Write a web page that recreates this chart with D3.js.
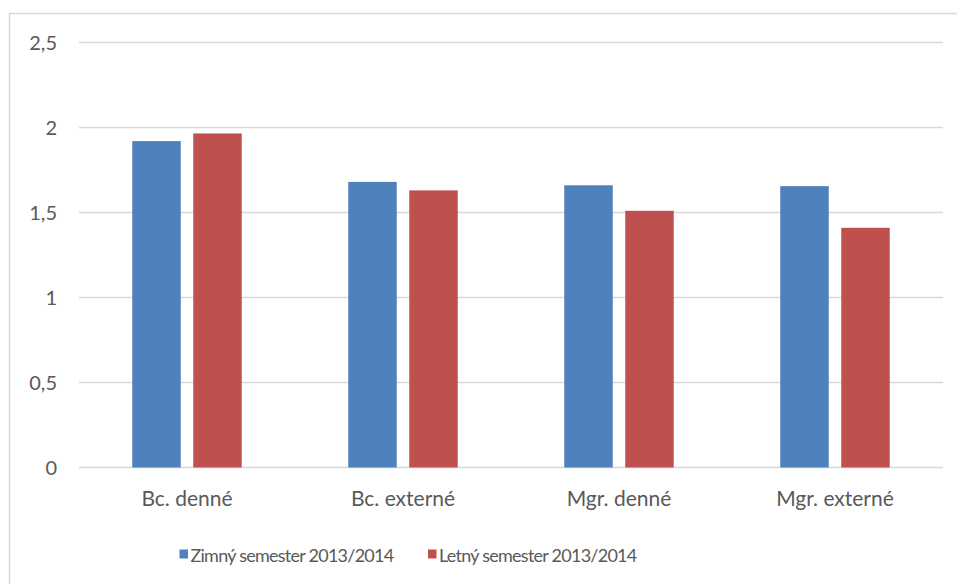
<!DOCTYPE html>
<html>
<head>
<meta charset="utf-8">
<script src="https://cdn.jsdelivr.net/npm/d3@7"></script>
<style>
  body { margin: 0; background: #fff; }
  text { font-family: Lato, "Open Sans", sans-serif; fill: #595959; }
</style>
</head>
<body>
<script>
// -- data --
var categories = ["Bc. denné", "Bc. externé", "Mgr. denné", "Mgr. externé"];
var seriesNames = ["Zimný semester 2013/2014", "Letný semester 2013/2014"];
var zimny = [1.92, 1.68, 1.66, 1.655];
var letny = [1.965, 1.63, 1.51, 1.41];
var yTicks = [0, 0.5, 1, 1.5, 2, 2.5];
var colors = ["#4f81bd", "#c0504d"];

var W = 957, H = 584;
var svg = d3.select("body").append("svg")
  .attr("width", W).attr("height", H);

// chart frame
svg.append("rect")
  .attr("x", 9.5).attr("y", 13.5)
  .attr("width", 960).attr("height", 600)
  .attr("fill", "none").attr("stroke", "#d9d9d9").attr("stroke-width", 1.5);

var plotL = 79, plotR = 943, plotT = 42.5, plotB = 467.5;

var x = d3.scaleBand().domain(categories).range([plotL, plotR]);
var y = d3.scaleLinear().domain([0, 2.5]).range([plotB, plotT]);

// gridlines
svg.append("g").selectAll("line")
  .data(yTicks).enter().append("line")
  .attr("x1", plotL).attr("x2", plotR)
  .attr("y1", function(d){ return y(d); })
  .attr("y2", function(d){ return y(d); })
  .attr("stroke", "#d9d9d9").attr("stroke-width", 1.3);

// y labels
svg.append("g").selectAll("text")
  .data(yTicks).enter().append("text")
  .attr("x", 57).attr("y", function(d){ return y(d); })
  .attr("dy", "0.36em")
  .attr("text-anchor", "end")
  .style("font-size", "20px")
  .text(function(d){ return String(d).replace(".", ","); });

// bars
var barW = 48.5, gap = 12.5;
var series = [zimny, letny];

series.forEach(function(vals, si){
  svg.append("g").selectAll("rect")
    .data(vals).enter().append("rect")
    .attr("x", function(d, i){
      var c = x(categories[i]) + x.bandwidth() / 2 - (barW * 2 + gap) / 2;
      return c + si * (barW + gap);
    })
    .attr("y", function(d){ return y(d); })
    .attr("width", barW)
    .attr("height", function(d){ return y(0) - y(d); })
    .attr("fill", colors[si]);
});

// x labels
svg.append("g").selectAll("text")
  .data(categories).enter().append("text")
  .attr("x", function(d){ return x(d) + x.bandwidth() / 2; })
  .attr("y", 506)
  .attr("text-anchor", "middle")
  .style("font-size", "21px")
  .text(function(d){ return d; });

// legend
var legX = [179.5, 428];
seriesNames.forEach(function(name, i){
  svg.append("rect")
    .attr("x", legX[i]).attr("y", 549.5)
    .attr("width", 8.5).attr("height", 9)
    .attr("fill", colors[i]);
  svg.append("text")
    .attr("x", legX[i] + 11).attr("y", 561.5)
    .style("font-size", "18px")
    .style("letter-spacing", "-0.75px")
    .text(name);
});
</script>
</body>
</html>
